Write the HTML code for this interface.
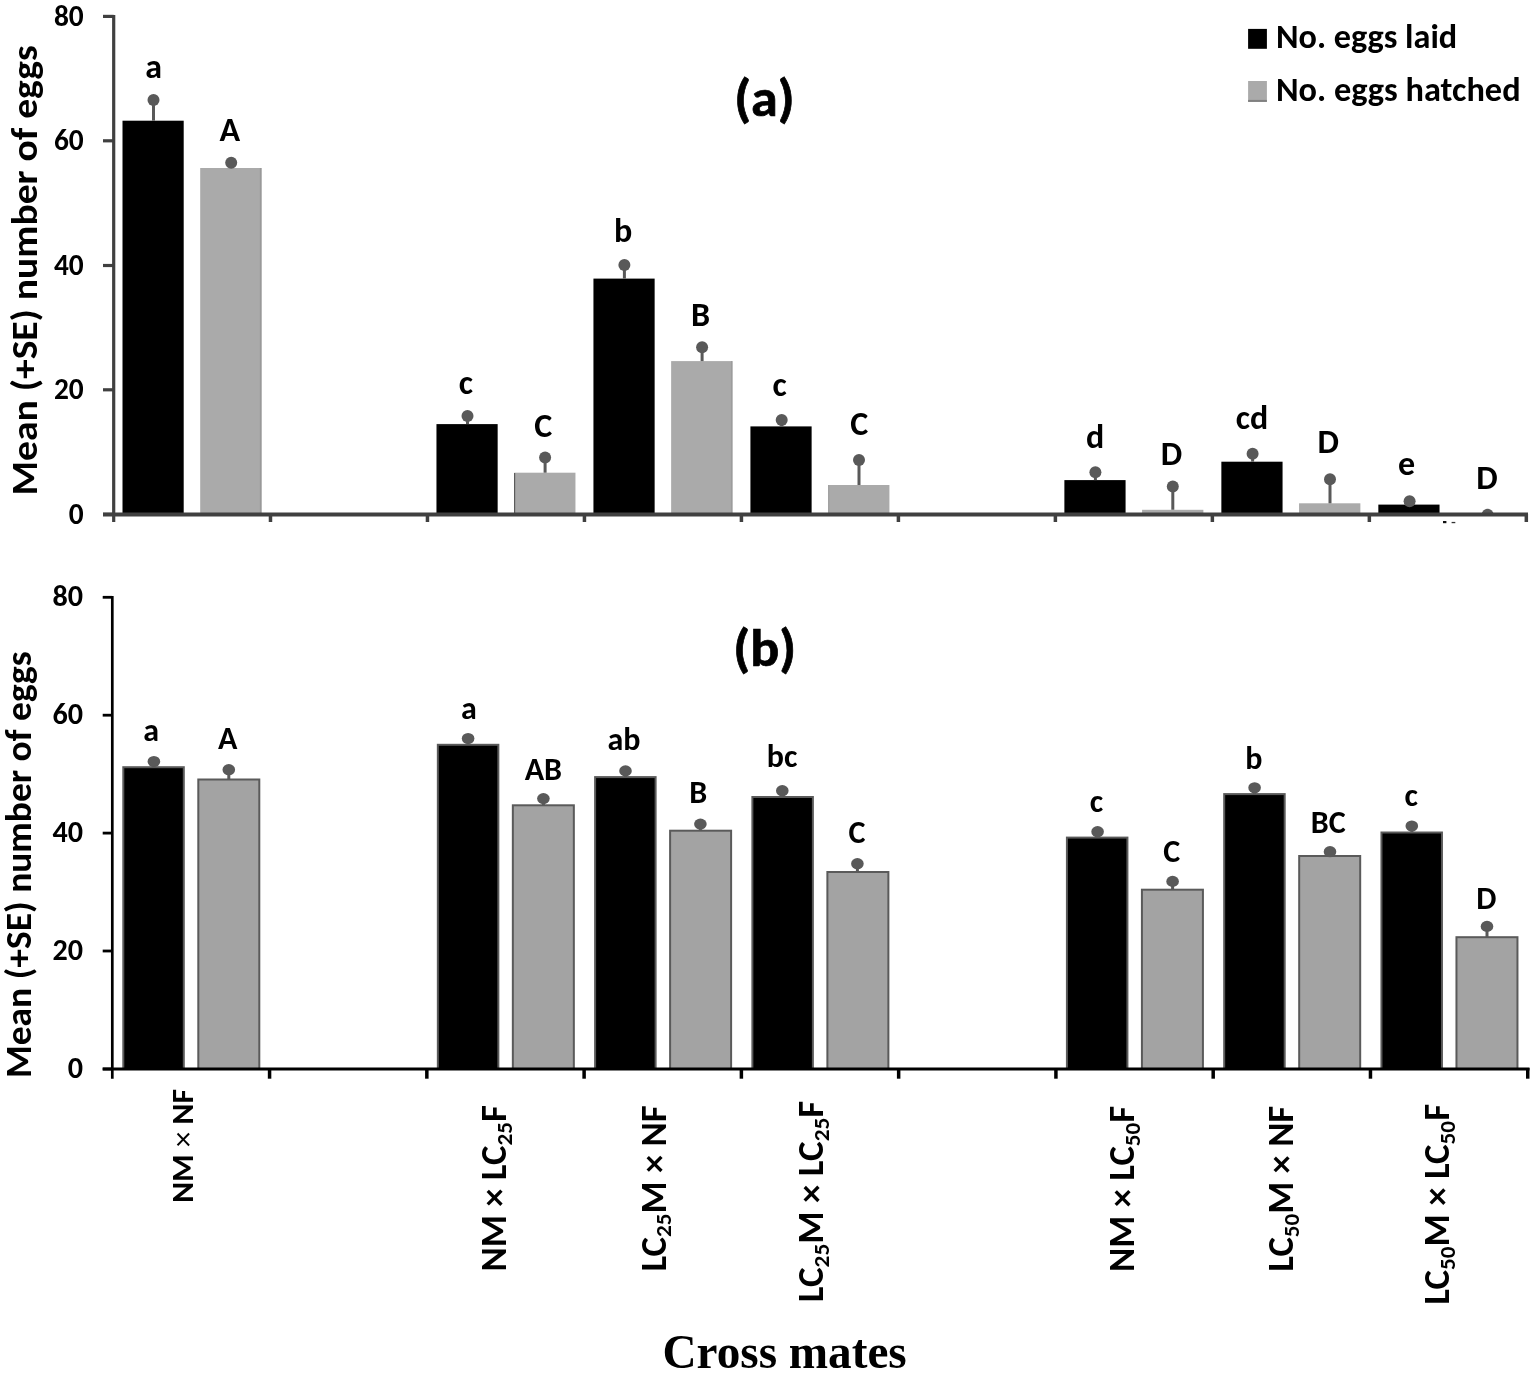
<!DOCTYPE html>
<html><head><meta charset="utf-8"><title>Cross mates</title>
<style>html,body{margin:0;padding:0;background:#fff;} svg{display:block;}</style>
</head><body>
<svg width="1534" height="1373" viewBox="0 0 1534 1373">
<rect width="1534" height="1373" fill="#fff"/>
<g stroke="#404040" fill="none">
<line x1="113.7" y1="14.899999999999999" x2="113.7" y2="522" stroke-width="3.2"/>
<line x1="103" y1="16.4" x2="113.7" y2="16.4" stroke-width="3.2"/>
<line x1="103" y1="140.8" x2="113.7" y2="140.8" stroke-width="3.2"/>
<line x1="103" y1="265.5" x2="113.7" y2="265.5" stroke-width="3.2"/>
<line x1="103" y1="389.8" x2="113.7" y2="389.8" stroke-width="3.2"/>
<line x1="103" y1="514.4" x2="113.7" y2="514.4" stroke-width="3.2"/>
<line x1="270.48" y1="514" x2="270.48" y2="522" stroke-width="3.5"/>
<line x1="427.46" y1="514" x2="427.46" y2="522" stroke-width="3.5"/>
<line x1="584.44" y1="514" x2="584.44" y2="522" stroke-width="3.5"/>
<line x1="741.42" y1="514" x2="741.42" y2="522" stroke-width="3.5"/>
<line x1="898.40" y1="514" x2="898.40" y2="522" stroke-width="3.5"/>
<line x1="1055.38" y1="514" x2="1055.38" y2="522" stroke-width="3.5"/>
<line x1="1212.36" y1="514" x2="1212.36" y2="522" stroke-width="3.5"/>
<line x1="1369.34" y1="514" x2="1369.34" y2="522" stroke-width="3.5"/>
<line x1="1526.32" y1="514" x2="1526.32" y2="522" stroke-width="3.5"/>
</g>
<rect x="122.50" y="120.7" width="61.2" height="393.70" fill="#000"/>
<rect x="200.20" y="168.0" width="61.3" height="346.40" fill="#aaaaaa"/>
<rect x="259.80" y="168.0" width="1.7" height="346.40" fill="#999"/>
<rect x="436.46" y="424.1" width="61.2" height="90.30" fill="#000"/>
<rect x="514.16" y="472.7" width="61.3" height="41.70" fill="#aaaaaa"/>
<rect x="514.06" y="473.0" width="1.1" height="41.40" fill="#555"/>
<rect x="593.44" y="278.6" width="61.2" height="235.80" fill="#000"/>
<rect x="671.14" y="361.1" width="61.3" height="153.30" fill="#aaaaaa"/>
<rect x="730.94" y="361.1" width="1.5" height="153.30" fill="#9c9c9c"/>
<rect x="750.42" y="426.4" width="61.2" height="88.00" fill="#000"/>
<rect x="828.12" y="485.0" width="61.3" height="29.40" fill="#aaaaaa"/>
<rect x="828.12" y="485.0" width="1.2" height="29.40" fill="#a0a0a0"/>
<rect x="1064.38" y="480.1" width="61.2" height="34.30" fill="#000"/>
<rect x="1142.08" y="509.8" width="61.3" height="4.60" fill="#aaaaaa"/>
<rect x="1221.36" y="461.7" width="61.2" height="52.70" fill="#000"/>
<rect x="1299.06" y="503.3" width="61.3" height="11.10" fill="#aaaaaa"/>
<rect x="1378.34" y="504.6" width="61.2" height="9.80" fill="#000"/>
<defs><clipPath id="clipA"><rect x="0" y="0" width="1534" height="514.4"/></clipPath></defs>
<g clip-path="url(#clipA)">
<line x1="153.5" y1="100.1" x2="153.5" y2="120.7" stroke="#595959" stroke-width="3"/>
<circle cx="153.5" cy="100.1" r="6" fill="#595959"/>
<line x1="231.2" y1="162.7" x2="231.2" y2="168.0" stroke="#595959" stroke-width="3"/>
<circle cx="231.2" cy="162.7" r="6" fill="#595959"/>
<line x1="467.5" y1="416.1" x2="467.5" y2="424.1" stroke="#595959" stroke-width="3"/>
<circle cx="467.5" cy="416.1" r="6" fill="#595959"/>
<line x1="545.1" y1="457.4" x2="545.1" y2="472.7" stroke="#595959" stroke-width="3"/>
<circle cx="545.1" cy="457.4" r="6" fill="#595959"/>
<line x1="624.4" y1="265.1" x2="624.4" y2="278.6" stroke="#595959" stroke-width="3"/>
<circle cx="624.4" cy="265.1" r="6" fill="#595959"/>
<line x1="702.1" y1="347.2" x2="702.1" y2="361.1" stroke="#595959" stroke-width="3"/>
<circle cx="702.1" cy="347.2" r="6" fill="#595959"/>
<line x1="781.7" y1="420.1" x2="781.7" y2="426.4" stroke="#595959" stroke-width="3"/>
<circle cx="781.7" cy="420.1" r="6" fill="#595959"/>
<line x1="859" y1="460.1" x2="859" y2="485.0" stroke="#595959" stroke-width="3"/>
<circle cx="859" cy="460.1" r="6" fill="#595959"/>
<line x1="1095.4" y1="472.3" x2="1095.4" y2="480.1" stroke="#595959" stroke-width="3"/>
<circle cx="1095.4" cy="472.3" r="6" fill="#595959"/>
<line x1="1172.8" y1="486.4" x2="1172.8" y2="509.8" stroke="#595959" stroke-width="3"/>
<circle cx="1172.8" cy="486.4" r="6" fill="#595959"/>
<line x1="1252.6" y1="453.8" x2="1252.6" y2="461.7" stroke="#595959" stroke-width="3"/>
<circle cx="1252.6" cy="453.8" r="6" fill="#595959"/>
<line x1="1330" y1="479.3" x2="1330" y2="503.3" stroke="#595959" stroke-width="3"/>
<circle cx="1330" cy="479.3" r="6" fill="#595959"/>
<line x1="1409.6" y1="501.2" x2="1409.6" y2="504.6" stroke="#595959" stroke-width="3"/>
<circle cx="1409.6" cy="501.2" r="6" fill="#595959"/>
<line x1="1487.6" y1="514.7" x2="1487.6" y2="514.4" stroke="#595959" stroke-width="3"/>
<circle cx="1487.6" cy="514.7" r="6" fill="#595959"/>
</g>
<line x1="103" y1="514.4" x2="1528" y2="514.4" stroke="#404040" stroke-width="4"/>
<rect x="1443" y="521" width="3.4" height="2.2" fill="#111"/><rect x="1451.6" y="521.9" width="3.7" height="1.3" fill="#333"/>
<text x="53.94" y="25.68" textLength="29.76" lengthAdjust="spacingAndGlyphs" font-family="Carlito, Calibri, 'Liberation Sans', sans-serif" font-weight="bold" font-size="30.00">80</text>
<text x="53.94" y="150.08" textLength="29.76" lengthAdjust="spacingAndGlyphs" font-family="Carlito, Calibri, 'Liberation Sans', sans-serif" font-weight="bold" font-size="30.00">60</text>
<text x="53.94" y="274.78" textLength="29.76" lengthAdjust="spacingAndGlyphs" font-family="Carlito, Calibri, 'Liberation Sans', sans-serif" font-weight="bold" font-size="30.00">40</text>
<text x="53.94" y="399.08" textLength="29.76" lengthAdjust="spacingAndGlyphs" font-family="Carlito, Calibri, 'Liberation Sans', sans-serif" font-weight="bold" font-size="30.00">20</text>
<text x="68.82" y="523.68" textLength="14.88" lengthAdjust="spacingAndGlyphs" font-family="Carlito, Calibri, 'Liberation Sans', sans-serif" font-weight="bold" font-size="30.00">0</text>
<text x="145.13" y="78.05" textLength="16.78" lengthAdjust="spacingAndGlyphs" font-family="Carlito, Calibri, 'Liberation Sans', sans-serif" font-weight="bold" font-size="34.00" fill="#000">a</text>
<text x="219.52" y="141.10" textLength="20.60" lengthAdjust="spacingAndGlyphs" font-family="Carlito, Calibri, 'Liberation Sans', sans-serif" font-weight="bold" font-size="34.00" fill="#000">A</text>
<text x="458.80" y="393.65" textLength="14.23" lengthAdjust="spacingAndGlyphs" font-family="Carlito, Calibri, 'Liberation Sans', sans-serif" font-weight="bold" font-size="34.00" fill="#000">c</text>
<text x="534.33" y="436.77" textLength="18.00" lengthAdjust="spacingAndGlyphs" font-family="Carlito, Calibri, 'Liberation Sans', sans-serif" font-weight="bold" font-size="34.00" fill="#000">C</text>
<text x="614.07" y="242.15" textLength="18.25" lengthAdjust="spacingAndGlyphs" font-family="Carlito, Calibri, 'Liberation Sans', sans-serif" font-weight="bold" font-size="34.00" fill="#000">b</text>
<text x="690.89" y="325.70" textLength="19.06" lengthAdjust="spacingAndGlyphs" font-family="Carlito, Calibri, 'Liberation Sans', sans-serif" font-weight="bold" font-size="34.00" fill="#000">B</text>
<text x="772.50" y="395.65" textLength="14.23" lengthAdjust="spacingAndGlyphs" font-family="Carlito, Calibri, 'Liberation Sans', sans-serif" font-weight="bold" font-size="34.00" fill="#000">c</text>
<text x="850.33" y="434.77" textLength="18.00" lengthAdjust="spacingAndGlyphs" font-family="Carlito, Calibri, 'Liberation Sans', sans-serif" font-weight="bold" font-size="34.00" fill="#000">C</text>
<text x="1085.88" y="448.45" textLength="18.25" lengthAdjust="spacingAndGlyphs" font-family="Carlito, Calibri, 'Liberation Sans', sans-serif" font-weight="bold" font-size="34.00" fill="#000">d</text>
<text x="1160.76" y="465.30" textLength="21.43" lengthAdjust="spacingAndGlyphs" font-family="Carlito, Calibri, 'Liberation Sans', sans-serif" font-weight="bold" font-size="34.00" fill="#000">D</text>
<text x="1235.79" y="429.45" textLength="32.47" lengthAdjust="spacingAndGlyphs" font-family="Carlito, Calibri, 'Liberation Sans', sans-serif" font-weight="bold" font-size="34.00" fill="#000">cd</text>
<text x="1317.56" y="453.40" textLength="21.43" lengthAdjust="spacingAndGlyphs" font-family="Carlito, Calibri, 'Liberation Sans', sans-serif" font-weight="bold" font-size="34.00" fill="#000">D</text>
<text x="1398.03" y="474.55" textLength="17.12" lengthAdjust="spacingAndGlyphs" font-family="Carlito, Calibri, 'Liberation Sans', sans-serif" font-weight="bold" font-size="34.00" fill="#000">e</text>
<text x="1476.21" y="489.10" textLength="21.43" lengthAdjust="spacingAndGlyphs" font-family="Carlito, Calibri, 'Liberation Sans', sans-serif" font-weight="bold" font-size="34.00" fill="#000">D</text>
<text x="734.15" y="115.63" textLength="60.39" lengthAdjust="spacingAndGlyphs" font-family="Carlito, Calibri, 'Liberation Sans', sans-serif" font-weight="bold" font-size="52.00" fill="#000" stroke="#000" stroke-width="0.7">(a)</text>
<rect x="1248.1" y="28.9" width="18.8" height="19.9" fill="#000"/>
<rect x="1248.1" y="81.0" width="18.8" height="20.9" fill="#aaaaaa"/>
<rect x="1248.1" y="99.9" width="18.8" height="2.0" fill="#808080"/>
<text x="1275.96" y="48.30" textLength="181.22" lengthAdjust="spacingAndGlyphs" font-family="Carlito, Calibri, 'Liberation Sans', sans-serif" font-weight="bold" font-size="34.20" fill="#000">No. eggs laid</text>
<text x="1275.96" y="101.30" textLength="244.62" lengthAdjust="spacingAndGlyphs" font-family="Carlito, Calibri, 'Liberation Sans', sans-serif" font-weight="bold" font-size="34.20" fill="#000">No. eggs hatched</text>
<text transform="translate(36.70,495.48) rotate(-90)" textLength="450.19" lengthAdjust="spacingAndGlyphs" font-family="Carlito, Calibri, 'Liberation Sans', sans-serif" font-weight="bold" font-size="35.80">Mean (+SE) number of eggs</text>
<g stroke="#000" fill="none">
<line x1="112.3" y1="596.0" x2="112.3" y2="1078.7" stroke-width="2.7"/>
<line x1="102.7" y1="597.3" x2="112.3" y2="597.3" stroke-width="2.8"/>
<line x1="102.7" y1="715.2" x2="112.3" y2="715.2" stroke-width="2.8"/>
<line x1="102.7" y1="833.1" x2="112.3" y2="833.1" stroke-width="2.8"/>
<line x1="102.7" y1="951.0" x2="112.3" y2="951.0" stroke-width="2.8"/>
<line x1="102.7" y1="1069.0" x2="112.3" y2="1069.0" stroke-width="2.8"/>
<line x1="269.57" y1="1068" x2="269.57" y2="1078.7" stroke-width="3.5"/>
<line x1="426.84" y1="1068" x2="426.84" y2="1078.7" stroke-width="3.5"/>
<line x1="584.11" y1="1068" x2="584.11" y2="1078.7" stroke-width="3.5"/>
<line x1="741.38" y1="1068" x2="741.38" y2="1078.7" stroke-width="3.5"/>
<line x1="898.65" y1="1068" x2="898.65" y2="1078.7" stroke-width="3.5"/>
<line x1="1055.92" y1="1068" x2="1055.92" y2="1078.7" stroke-width="3.5"/>
<line x1="1213.19" y1="1068" x2="1213.19" y2="1078.7" stroke-width="3.5"/>
<line x1="1370.46" y1="1068" x2="1370.46" y2="1078.7" stroke-width="3.5"/>
<line x1="1527.73" y1="1068" x2="1527.73" y2="1078.7" stroke-width="3.5"/>
</g>
<rect x="123.30" y="767.2" width="60.5" height="301.80" fill="#000" stroke="#5a5a5a" stroke-width="2"/>
<rect x="198.30" y="779.5" width="61" height="289.50" fill="#a3a3a3" stroke="#5a5a5a" stroke-width="2"/>
<rect x="437.84" y="744.8" width="60.5" height="324.20" fill="#000" stroke="#5a5a5a" stroke-width="2"/>
<rect x="512.84" y="805.3" width="61" height="263.70" fill="#a3a3a3" stroke="#5a5a5a" stroke-width="2"/>
<rect x="595.11" y="777.1" width="60.5" height="291.90" fill="#000" stroke="#5a5a5a" stroke-width="2"/>
<rect x="670.11" y="830.7" width="61" height="238.30" fill="#a3a3a3" stroke="#5a5a5a" stroke-width="2"/>
<rect x="752.38" y="797" width="60.5" height="272.00" fill="#000" stroke="#5a5a5a" stroke-width="2"/>
<rect x="827.38" y="872" width="61" height="197.00" fill="#a3a3a3" stroke="#5a5a5a" stroke-width="2"/>
<rect x="1066.92" y="837.6" width="60.5" height="231.40" fill="#000" stroke="#5a5a5a" stroke-width="2"/>
<rect x="1141.92" y="889.7" width="61" height="179.30" fill="#a3a3a3" stroke="#5a5a5a" stroke-width="2"/>
<rect x="1224.19" y="794.1" width="60.5" height="274.90" fill="#000" stroke="#5a5a5a" stroke-width="2"/>
<rect x="1299.19" y="856" width="61" height="213.00" fill="#a3a3a3" stroke="#5a5a5a" stroke-width="2"/>
<rect x="1381.46" y="832.5" width="60.5" height="236.50" fill="#000" stroke="#5a5a5a" stroke-width="2"/>
<rect x="1456.46" y="937.2" width="61" height="131.80" fill="#a3a3a3" stroke="#5a5a5a" stroke-width="2"/>
<line x1="153.9" y1="761.5" x2="153.9" y2="767.2" stroke="#595959" stroke-width="3"/>
<ellipse cx="153.9" cy="761.5" rx="6.3" ry="5.6" fill="#595959"/>
<line x1="228.8" y1="769.7" x2="228.8" y2="779.5" stroke="#595959" stroke-width="3"/>
<ellipse cx="228.8" cy="769.7" rx="6.3" ry="5.6" fill="#595959"/>
<line x1="468.1" y1="738.5" x2="468.1" y2="744.8" stroke="#595959" stroke-width="3"/>
<ellipse cx="468.1" cy="738.5" rx="6.3" ry="5.6" fill="#595959"/>
<line x1="543.4" y1="798.6" x2="543.4" y2="805.3" stroke="#595959" stroke-width="3"/>
<ellipse cx="543.4" cy="798.6" rx="6.3" ry="5.6" fill="#595959"/>
<line x1="625.5" y1="770.9" x2="625.5" y2="777.1" stroke="#595959" stroke-width="3"/>
<ellipse cx="625.5" cy="770.9" rx="6.3" ry="5.6" fill="#595959"/>
<line x1="700.4" y1="824.1" x2="700.4" y2="830.7" stroke="#595959" stroke-width="3"/>
<ellipse cx="700.4" cy="824.1" rx="6.3" ry="5.6" fill="#595959"/>
<line x1="782.3" y1="790.7" x2="782.3" y2="797" stroke="#595959" stroke-width="3"/>
<ellipse cx="782.3" cy="790.7" rx="6.3" ry="5.6" fill="#595959"/>
<line x1="857.4" y1="863.7" x2="857.4" y2="872" stroke="#595959" stroke-width="3"/>
<ellipse cx="857.4" cy="863.7" rx="6.3" ry="5.6" fill="#595959"/>
<line x1="1097.6" y1="831.7" x2="1097.6" y2="837.6" stroke="#595959" stroke-width="3"/>
<ellipse cx="1097.6" cy="831.7" rx="6.3" ry="5.6" fill="#595959"/>
<line x1="1172.6" y1="881.4" x2="1172.6" y2="889.7" stroke="#595959" stroke-width="3"/>
<ellipse cx="1172.6" cy="881.4" rx="6.3" ry="5.6" fill="#595959"/>
<line x1="1254.6" y1="787.8" x2="1254.6" y2="794.1" stroke="#595959" stroke-width="3"/>
<ellipse cx="1254.6" cy="787.8" rx="6.3" ry="5.6" fill="#595959"/>
<line x1="1330" y1="851.7" x2="1330" y2="856" stroke="#595959" stroke-width="3"/>
<ellipse cx="1330" cy="851.7" rx="6.3" ry="5.6" fill="#595959"/>
<line x1="1411.8" y1="826" x2="1411.8" y2="832.5" stroke="#595959" stroke-width="3"/>
<ellipse cx="1411.8" cy="826" rx="6.3" ry="5.6" fill="#595959"/>
<line x1="1487" y1="926.4" x2="1487" y2="937.2" stroke="#595959" stroke-width="3"/>
<ellipse cx="1487" cy="926.4" rx="6.3" ry="5.6" fill="#595959"/>
<line x1="102.7" y1="1069.0" x2="1529.5" y2="1069.0" stroke="#000" stroke-width="3.2"/>
<text x="52.48" y="606.39" textLength="30.54" lengthAdjust="spacingAndGlyphs" font-family="Carlito, Calibri, 'Liberation Sans', sans-serif" font-weight="bold" font-size="30.34">80</text>
<text x="52.48" y="724.29" textLength="30.54" lengthAdjust="spacingAndGlyphs" font-family="Carlito, Calibri, 'Liberation Sans', sans-serif" font-weight="bold" font-size="30.34">60</text>
<text x="52.48" y="842.19" textLength="30.54" lengthAdjust="spacingAndGlyphs" font-family="Carlito, Calibri, 'Liberation Sans', sans-serif" font-weight="bold" font-size="30.34">40</text>
<text x="52.48" y="960.09" textLength="30.54" lengthAdjust="spacingAndGlyphs" font-family="Carlito, Calibri, 'Liberation Sans', sans-serif" font-weight="bold" font-size="30.34">20</text>
<text x="67.75" y="1078.09" textLength="15.27" lengthAdjust="spacingAndGlyphs" font-family="Carlito, Calibri, 'Liberation Sans', sans-serif" font-weight="bold" font-size="30.34">0</text>
<text x="143.21" y="740.67" textLength="15.80" lengthAdjust="spacingAndGlyphs" font-family="Carlito, Calibri, 'Liberation Sans', sans-serif" font-weight="bold" font-size="32.00" fill="#000">a</text>
<text x="217.93" y="748.80" textLength="19.39" lengthAdjust="spacingAndGlyphs" font-family="Carlito, Calibri, 'Liberation Sans', sans-serif" font-weight="bold" font-size="32.00" fill="#000">A</text>
<text x="460.91" y="718.67" textLength="15.80" lengthAdjust="spacingAndGlyphs" font-family="Carlito, Calibri, 'Liberation Sans', sans-serif" font-weight="bold" font-size="32.00" fill="#000">a</text>
<text x="524.63" y="779.70" textLength="37.33" lengthAdjust="spacingAndGlyphs" font-family="Carlito, Calibri, 'Liberation Sans', sans-serif" font-weight="bold" font-size="32.00" fill="#000">AB</text>
<text x="607.44" y="750.47" textLength="32.97" lengthAdjust="spacingAndGlyphs" font-family="Carlito, Calibri, 'Liberation Sans', sans-serif" font-weight="bold" font-size="32.00" fill="#000">ab</text>
<text x="689.33" y="802.90" textLength="17.94" lengthAdjust="spacingAndGlyphs" font-family="Carlito, Calibri, 'Liberation Sans', sans-serif" font-weight="bold" font-size="32.00" fill="#000">B</text>
<text x="766.86" y="767.17" textLength="30.56" lengthAdjust="spacingAndGlyphs" font-family="Carlito, Calibri, 'Liberation Sans', sans-serif" font-weight="bold" font-size="32.00" fill="#000">bc</text>
<text x="848.62" y="843.28" textLength="16.94" lengthAdjust="spacingAndGlyphs" font-family="Carlito, Calibri, 'Liberation Sans', sans-serif" font-weight="bold" font-size="32.00" fill="#000">C</text>
<text x="1089.74" y="812.37" textLength="13.39" lengthAdjust="spacingAndGlyphs" font-family="Carlito, Calibri, 'Liberation Sans', sans-serif" font-weight="bold" font-size="32.00" fill="#000">c</text>
<text x="1163.37" y="862.08" textLength="16.94" lengthAdjust="spacingAndGlyphs" font-family="Carlito, Calibri, 'Liberation Sans', sans-serif" font-weight="bold" font-size="32.00" fill="#000">C</text>
<text x="1245.29" y="768.97" textLength="17.17" lengthAdjust="spacingAndGlyphs" font-family="Carlito, Calibri, 'Liberation Sans', sans-serif" font-weight="bold" font-size="32.00" fill="#000">b</text>
<text x="1310.80" y="832.98" textLength="34.88" lengthAdjust="spacingAndGlyphs" font-family="Carlito, Calibri, 'Liberation Sans', sans-serif" font-weight="bold" font-size="32.00" fill="#000">BC</text>
<text x="1404.54" y="806.47" textLength="13.39" lengthAdjust="spacingAndGlyphs" font-family="Carlito, Calibri, 'Liberation Sans', sans-serif" font-weight="bold" font-size="32.00" fill="#000">c</text>
<text x="1476.22" y="909.00" textLength="20.17" lengthAdjust="spacingAndGlyphs" font-family="Carlito, Calibri, 'Liberation Sans', sans-serif" font-weight="bold" font-size="32.00" fill="#000">D</text>
<text x="733.39" y="666.13" textLength="62.71" lengthAdjust="spacingAndGlyphs" font-family="Carlito, Calibri, 'Liberation Sans', sans-serif" font-weight="bold" font-size="52.00" fill="#000" stroke="#000" stroke-width="0.7">(b)</text>
<text transform="translate(31.30,1078.05) rotate(-90)" textLength="426.80" lengthAdjust="spacingAndGlyphs" font-family="Carlito, Calibri, 'Liberation Sans', sans-serif" font-weight="bold" font-size="35.90">Mean (+SE) number of eggs</text>
<text transform="translate(193.00,1202.78) rotate(-90)" textLength="113.65" lengthAdjust="spacingAndGlyphs" font-family="Carlito, Calibri, 'Liberation Sans', sans-serif" font-weight="bold" font-size="30.00"><tspan>NM </tspan><tspan font-weight="normal">×</tspan><tspan> NF</tspan></text>
<text transform="translate(506.10,1271.49) rotate(-90)" textLength="166.28" lengthAdjust="spacingAndGlyphs" font-family="Carlito, Calibri, 'Liberation Sans', sans-serif" font-weight="bold" font-size="35.30"><tspan>NM × LC</tspan><tspan font-size="22.24" dy="5.65">25</tspan><tspan dy="-5.65">F</tspan></text>
<text transform="translate(665.60,1271.53) rotate(-90)" textLength="166.13" lengthAdjust="spacingAndGlyphs" font-family="Carlito, Calibri, 'Liberation Sans', sans-serif" font-weight="bold" font-size="35.30"><tspan>LC</tspan><tspan font-size="22.24" dy="5.65">25</tspan><tspan dy="-5.65">M × NF</tspan></text>
<text transform="translate(823.30,1302.24) rotate(-90)" textLength="201.55" lengthAdjust="spacingAndGlyphs" font-family="Carlito, Calibri, 'Liberation Sans', sans-serif" font-weight="bold" font-size="35.30"><tspan>LC</tspan><tspan font-size="22.24" dy="5.65">25</tspan><tspan dy="-5.65">M × LC</tspan><tspan font-size="22.24" dy="5.65">25</tspan><tspan dy="-5.65">F</tspan></text>
<text transform="translate(1134.20,1271.88) rotate(-90)" textLength="166.08" lengthAdjust="spacingAndGlyphs" font-family="Carlito, Calibri, 'Liberation Sans', sans-serif" font-weight="bold" font-size="35.30"><tspan>NM × LC</tspan><tspan font-size="22.24" dy="5.65">50</tspan><tspan dy="-5.65">F</tspan></text>
<text transform="translate(1293.30,1271.63) rotate(-90)" textLength="165.82" lengthAdjust="spacingAndGlyphs" font-family="Carlito, Calibri, 'Liberation Sans', sans-serif" font-weight="bold" font-size="35.30"><tspan>LC</tspan><tspan font-size="22.24" dy="5.65">50</tspan><tspan dy="-5.65">M × NF</tspan></text>
<text transform="translate(1449.10,1304.64) rotate(-90)" textLength="200.73" lengthAdjust="spacingAndGlyphs" font-family="Carlito, Calibri, 'Liberation Sans', sans-serif" font-weight="bold" font-size="35.30"><tspan>LC</tspan><tspan font-size="22.24" dy="5.65">50</tspan><tspan dy="-5.65">M × LC</tspan><tspan font-size="22.24" dy="5.65">50</tspan><tspan dy="-5.65">F</tspan></text>
<text x="662.50" y="1367.63" textLength="244.24" lengthAdjust="spacingAndGlyphs" font-family="'Liberation Serif', 'Times New Roman', serif" font-weight="bold" font-size="48.00" fill="#000">Cross mates</text>
</svg>
</body></html>
